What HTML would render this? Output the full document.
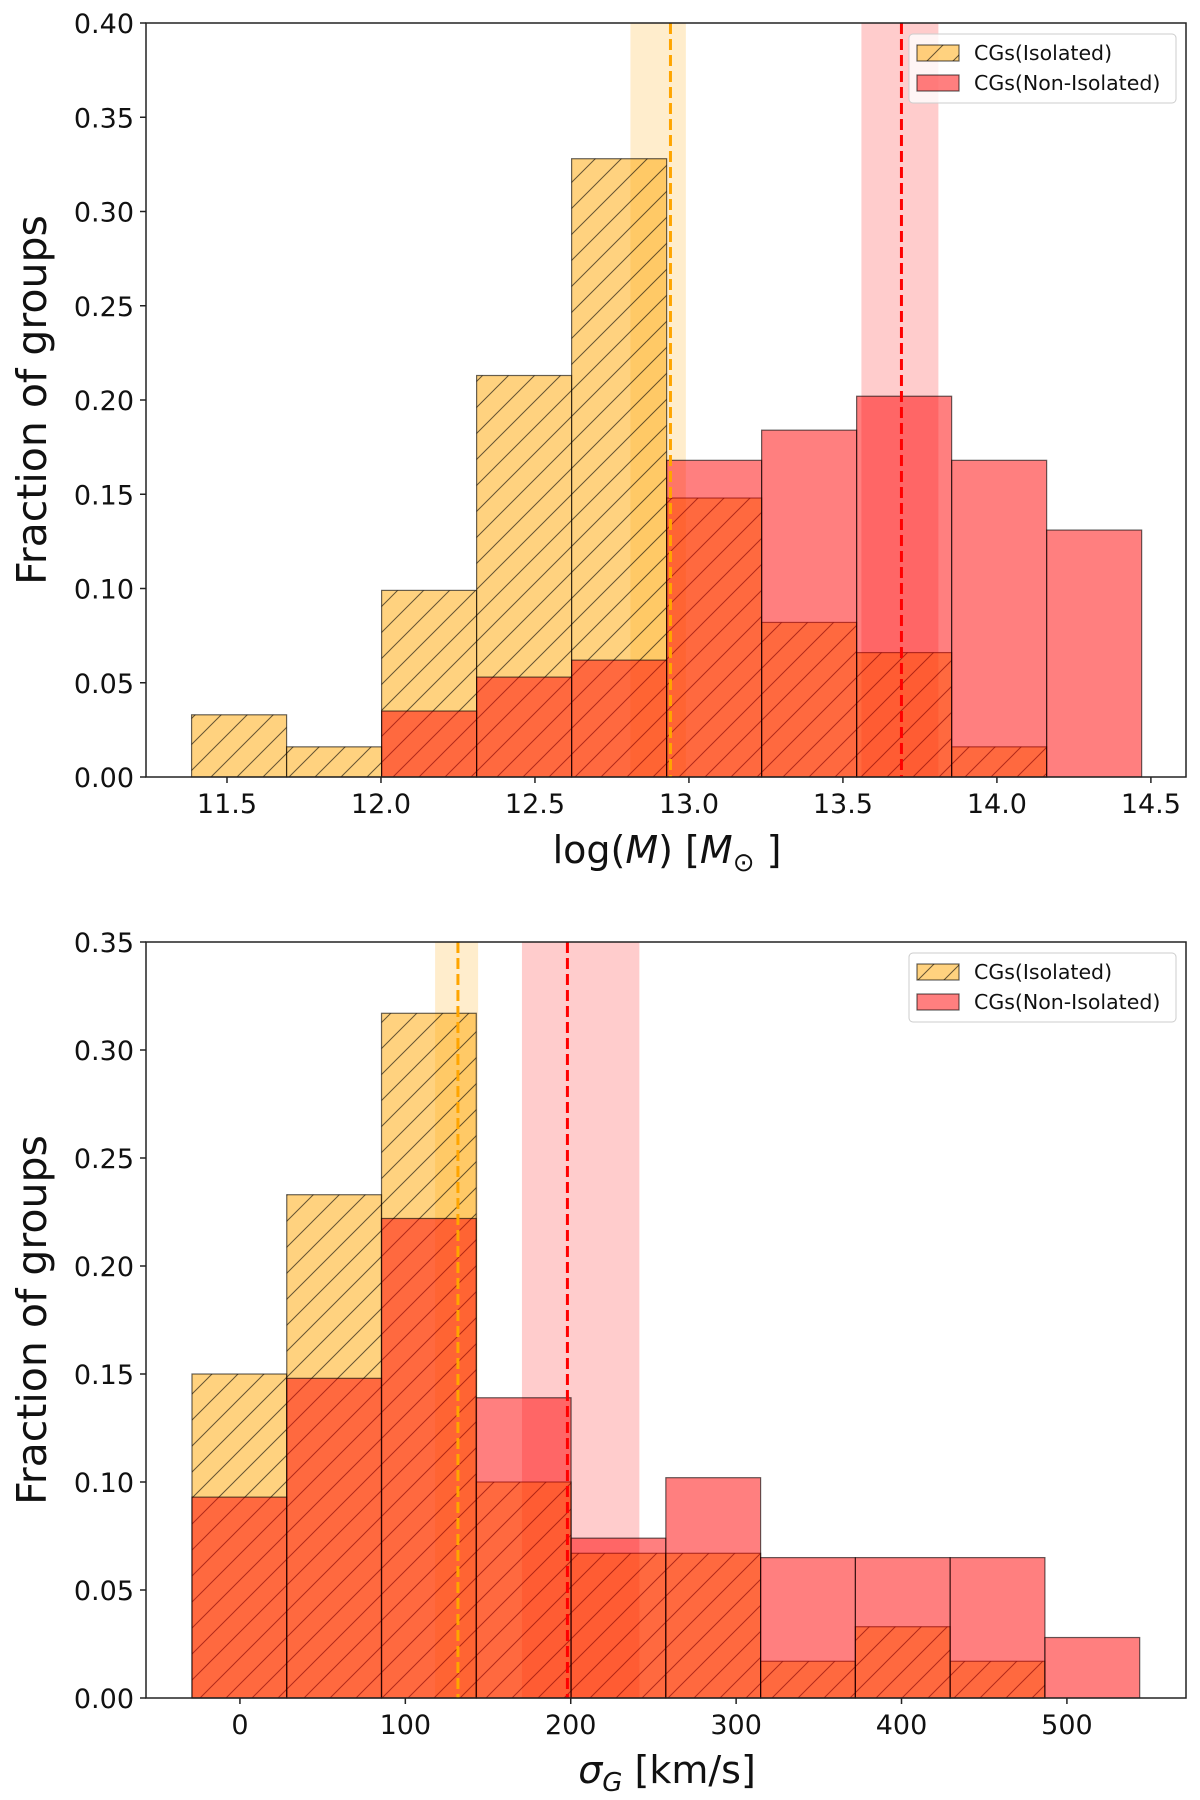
<!DOCTYPE html>
<html><head><meta charset="utf-8">
<style>
html,body{margin:0;padding:0;background:#fff;}
svg{display:block;font-family:"DejaVu Sans","Liberation Sans",sans-serif;}
</style></head>
<body>
<svg id="fig" width="1200" height="1800" viewBox="0 0 1200 1800" xmlns="http://www.w3.org/2000/svg">
<defs>
<pattern id="hatch" patternUnits="userSpaceOnUse" width="26" height="26">
<path d="M-2,28 L28,-2 M-15,15 L15,-15 M11,41 L41,11" stroke="#000" stroke-opacity="0.6" stroke-width="1"/>
</pattern>
</defs>
<g id="topg"></g>
<g id="botg"></g>
</svg>
<script>
// ---- top panel data ----
const massEdgeStart = 11.385;
const massBinWidth = 0.3085;
const massIsolated = [0.033, 0.016, 0.099, 0.213, 0.328, 0.148, 0.082, 0.066, 0.016, 0];
const massNonIsolated = [0, 0, 0.035, 0.053, 0.062, 0.168, 0.184, 0.202, 0.168, 0.131];
const massTicksX = [11.5, 12.0, 12.5, 13.0, 13.5, 14.0, 14.5];
const massTickLabelsX = ["11.5","12.0","12.5","13.0","13.5","14.0","14.5"];
const massTicksY = [0, 0.05, 0.10, 0.15, 0.20, 0.25, 0.30, 0.35, 0.40];
const massTickLabelsY = ["0.00","0.05","0.10","0.15","0.20","0.25","0.30","0.35","0.40"];
const massIsoMedian = [12.94, 12.81, 12.99];
const massNonMedian = [13.69, 13.56, 13.81];
// ---- bottom panel data ----
const sigEdgeStart = -29;
const sigBinWidth = 57.3;
const sigIsolated = [0.150, 0.233, 0.317, 0.100, 0.067, 0.067, 0.017, 0.033, 0.017, 0];
const sigNonIsolated = [0.093, 0.148, 0.222, 0.139, 0.074, 0.102, 0.065, 0.065, 0.065, 0.028];
const sigTicksX = [0, 100, 200, 300, 400, 500];
const sigTickLabelsX = ["0","100","200","300","400","500"];
const sigTicksY = [0, 0.05, 0.10, 0.15, 0.20, 0.25, 0.30, 0.35];
const sigTickLabelsY = ["0.00","0.05","0.10","0.15","0.20","0.25","0.30","0.35"];
const sigIsoMedian = [131.8, 118, 144];
const sigNonMedian = [198, 170.5, 241.5];

const NS = "http://www.w3.org/2000/svg";
function mk(parent, tag, attrs, text){
  const e = document.createElementNS(NS, tag);
  for (const k in attrs) e.setAttribute(k, attrs[k]);
  if (text !== undefined) e.textContent = text;
  parent.appendChild(e);
  return e;
}

function panel(g, o){
  const L=146, R=1186, T=o.T, B=o.B;
  const sx = v => L + (v - o.xmin) / (o.xmax - o.xmin) * (R - L);
  const sy = v => B - v / o.ymax * (B - T);
  let e;
  e = mk(g,'rect',{x:sx(o.isoMed[1]),y:T,width:sx(o.isoMed[2])-sx(o.isoMed[1]),height:B-T,fill:'#ffa500','fill-opacity':0.2});
  
  
  e = mk(g,'rect',{x:sx(o.nonMed[1]),y:T,width:sx(o.nonMed[2])-sx(o.nonMed[1]),height:B-T,fill:'#ff0000','fill-opacity':0.2});
  
  
  o.iso.forEach((v,i)=>{
    if (v<=0) return;
    const x0=sx(o.e0+i*o.w), x1=sx(o.e0+(i+1)*o.w);
    const b = mk(g,'g',{});
    
    
    mk(b,'rect',{x:x0,y:sy(v),width:x1-x0,height:B-sy(v),fill:'#ffa500','fill-opacity':0.5});
    mk(b,'rect',{x:x0,y:sy(v),width:x1-x0,height:B-sy(v),fill:'url(#hatch)',stroke:'#000','stroke-opacity':0.6,'stroke-width':1.2});
  });
  o.non.forEach((v,i)=>{
    if (v<=0) return;
    const x0=sx(o.e0+i*o.w), x1=sx(o.e0+(i+1)*o.w);
    const r = mk(g,'rect',{x:x0,y:sy(v),width:x1-x0,height:B-sy(v),fill:'#ff0000','fill-opacity':0.5,stroke:'#000','stroke-opacity':0.6,'stroke-width':1.2});
    
    
  });
  e = mk(g,'line',{x1:sx(o.isoMed[0]),x2:sx(o.isoMed[0]),y1:T,y2:B,stroke:'#ffa500','stroke-width':3,'stroke-dasharray':'11,5'});
  
  
  e = mk(g,'line',{x1:sx(o.nonMed[0]),x2:sx(o.nonMed[0]),y1:T,y2:B,stroke:'#ff0000','stroke-width':3,'stroke-dasharray':'11,5'});
  
  
  e = mk(g,'rect',{x:L,y:T,width:R-L,height:B-T,fill:'none',stroke:'#222','stroke-width':1.5});
  
  
  o.tx.forEach((v,i)=>{
    mk(g,'line',{x1:sx(v),x2:sx(v),y1:B,y2:B+6,stroke:'#222','stroke-width':1.5});
    const t = mk(g,'text',{x:sx(v),y:B+36,'font-size':27,'text-anchor':'middle',fill:'#111'},o.txl[i]);
    
    
  });
  o.ty.forEach((v,i)=>{
    mk(g,'line',{x1:L-6,x2:L,y1:sy(v),y2:sy(v),stroke:'#222','stroke-width':1.5});
    const t = mk(g,'text',{x:L-12,y:sy(v)+10,'font-size':27,'text-anchor':'end',fill:'#111'},o.tyl[i]);
    
    
  });
  e = mk(g,'text',{x:0,y:0,'font-size':41,'text-anchor':'middle',fill:'#111',transform:'translate(46,'+((T+B)/2)+') rotate(-90)'},'Fraction of groups');
  
  
  const lg = mk(g,'g',{});
  
  
  const ly = T+11;
  mk(lg,'rect',{x:909,y:ly,width:267,height:69,rx:4,fill:'#fff','fill-opacity':0.8,stroke:'#ccc','stroke-width':1});
  const l1 = mk(lg,'g',{});
  
  
  mk(l1,'rect',{x:917,y:ly+11,width:42,height:16,fill:'#ffa500','fill-opacity':0.5});
  mk(l1,'rect',{x:917,y:ly+11,width:42,height:16,fill:'url(#hatch)',stroke:'#000','stroke-opacity':0.6,'stroke-width':1.2});
  mk(l1,'text',{x:974,y:ly+26,'font-size':20.5,fill:'#111'},'CGs(Isolated)');
  const l2 = mk(lg,'g',{});
  
  
  mk(l2,'rect',{x:917,y:ly+41,width:42,height:16,fill:'#ff0000','fill-opacity':0.5,stroke:'#000','stroke-opacity':0.6,'stroke-width':1.2});
  mk(l2,'text',{x:974,y:ly+56,'font-size':20.5,fill:'#111'},'CGs(Non-Isolated)');
}

const topPanel = document.getElementById('topg');
panel(topPanel,{T:23,B:777,xmin:11.237,xmax:14.614,ymax:0.40,e0:massEdgeStart,w:massBinWidth,iso:massIsolated,non:massNonIsolated,
  tx:massTicksX,txl:massTickLabelsX,ty:massTicksY,tyl:massTickLabelsY,isoMed:massIsoMedian,nonMed:massNonMedian});
const xl1 = mk(topPanel,'text',{x:667,y:863,'font-size':38,'text-anchor':'middle',fill:'#111'});


xl1.innerHTML = 'log(<tspan font-style="italic">M</tspan>) [<tspan font-style="italic">M</tspan><tspan font-size="26" dy="8">⊙</tspan><tspan dy="-8"> ]</tspan>';

const botPanel = document.getElementById('botg');
panel(botPanel,{T:942,B:1698,xmin:-56.8,xmax:572,ymax:0.35,e0:sigEdgeStart,w:sigBinWidth,iso:sigIsolated,non:sigNonIsolated,
  tx:sigTicksX,txl:sigTickLabelsX,ty:sigTicksY,tyl:sigTickLabelsY,isoMed:sigIsoMedian,nonMed:sigNonMedian});
const xl2 = mk(botPanel,'text',{x:667,y:1783,'font-size':38,'text-anchor':'middle',fill:'#111'});


xl2.innerHTML = '<tspan font-style="italic">σ</tspan><tspan font-size="26" dy="8" font-style="italic">G</tspan><tspan dy="-8"> [km/s]</tspan>';
</script>
</body></html>
